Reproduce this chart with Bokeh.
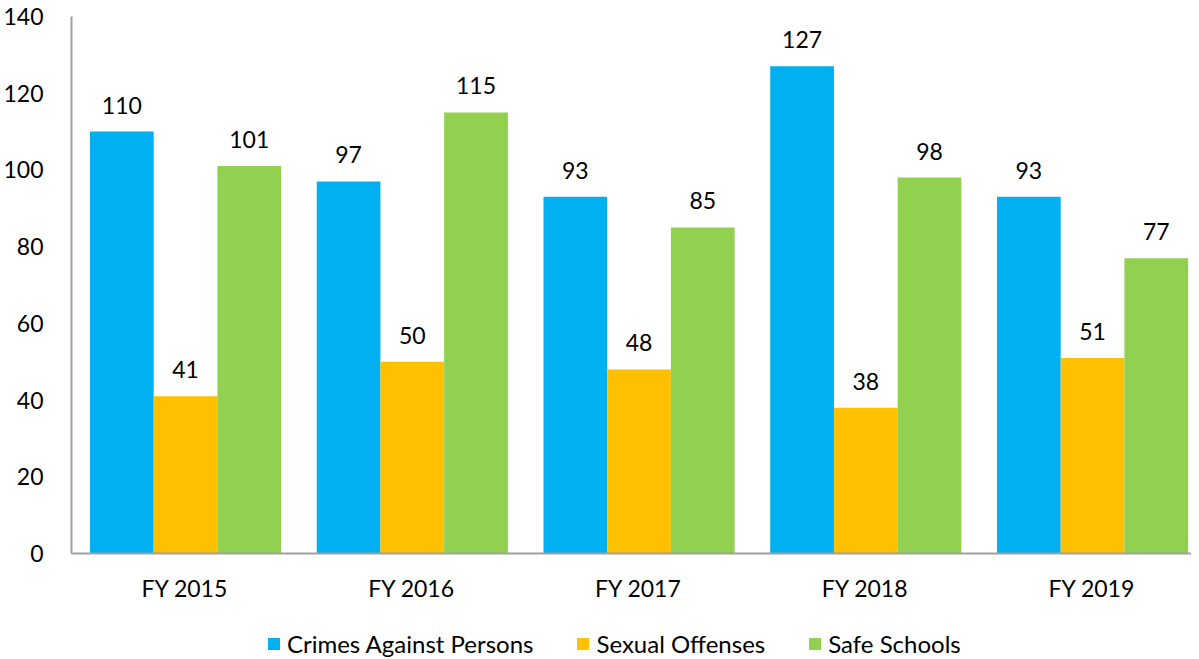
from bokeh.plotting import figure
from bokeh.layouts import column
from bokeh.models import ColumnDataSource, Legend, LegendItem, Range1d, LabelSet, FixedTicker
from bokeh.transform import dodge
from bokeh.core.properties import value
from bokeh.embed import file_html
from bokeh.resources import INLINE

years = ["FY 2015", "FY 2016", "FY 2017", "FY 2018", "FY 2019"]
crimes = [110, 97, 93, 127, 93]
sexual = [41, 50, 48, 38, 51]
safe = [101, 115, 85, 98, 77]
series_names = ["Crimes Against Persons", "Sexual Offenses", "Safe Schools"]
colors = ["#00B0F0", "#FFC000", "#92D050"]
y_ticks = [0, 20, 40, 60, 80, 100, 120, 140]

FONT = "Lato"
FS = "23px"

xc = [i + 0.5 for i in range(len(years))]
src = ColumnDataSource(dict(x=xc, crimes=crimes, sexual=sexual, safe=safe,
                            crimes_t=[str(v) for v in crimes],
                            sexual_t=[str(v) for v in sexual],
                            safe_t=[str(v) for v in safe]))

FRAME_W = 1120
GROUP_PX = 226.75
p = figure(x_range=Range1d(0, FRAME_W / GROUP_PX), y_range=Range1d(0, 140),
           frame_width=FRAME_W, frame_height=537, output_backend="svg", toolbar_location=None,
           min_border_left=63, min_border_right=0, min_border_top=16, min_border_bottom=52)
p.outline_line_color = None
p.grid.grid_line_color = None

w = 0.281
offs = [-w + 0.003, 0.003, w + 0.003]
keys = ["crimes", "sexual", "safe"]
for k, o, c in zip(keys, offs, colors):
    p.vbar(x=dodge("x", o), top=k, width=w, source=src, fill_color=c, line_color=None)
    lbl = LabelSet(x=dodge("x", o), y=k, text=k + "_t", source=src,
                   text_align="center", text_baseline="bottom", y_offset=18,
                   text_font=value(FONT), text_font_size=FS, text_color="#000000")
    p.add_layout(lbl)

p.yaxis.ticker = y_ticks
p.xaxis.ticker = FixedTicker(ticks=xc)
p.xaxis.major_label_overrides = {x: y for x, y in zip(xc, years)}
for ax in (p.xaxis, p.yaxis):
    ax.axis_line_color = "#A0A0A0"
    ax.axis_line_width = 2
    ax.major_tick_line_color = None
    ax.minor_tick_line_color = None
    ax.major_label_text_font = FONT
    ax.major_label_text_font_size = FS
    ax.major_label_text_color = "#000000"
p.yaxis.major_label_standoff = 22
p.xaxis.major_label_standoff = 14

# legend strip below the chart (swatch renderers sit outside the visible range)
lg = figure(width=63 + FRAME_W, height=54, x_range=Range1d(0, 1), y_range=Range1d(0, 1),
            output_backend="svg", toolbar_location=None, min_border=0)
lg.axis.visible = False
lg.grid.visible = False
lg.outline_line_color = None
items = []
for n, c in zip(series_names, colors):
    r = lg.quad(left=[-5], right=[-4], bottom=[-5], top=[-4], fill_color=c, line_color=None)
    items.append(LegendItem(label=n, renderers=[r]))
legend = Legend(items=items, orientation="horizontal", location=(195, 1),
                label_text_font=FONT, label_text_font_size="24px", label_text_color="#000000",
                glyph_width=15, glyph_height=15, label_standoff=6, spacing=42,
                border_line_color=None, background_fill_alpha=0, margin=0, padding=0)
lg.add_layout(legend, "center")

layout = column(p, lg, spacing=0)
open("out.html", "w").write(file_html(layout, INLINE))
